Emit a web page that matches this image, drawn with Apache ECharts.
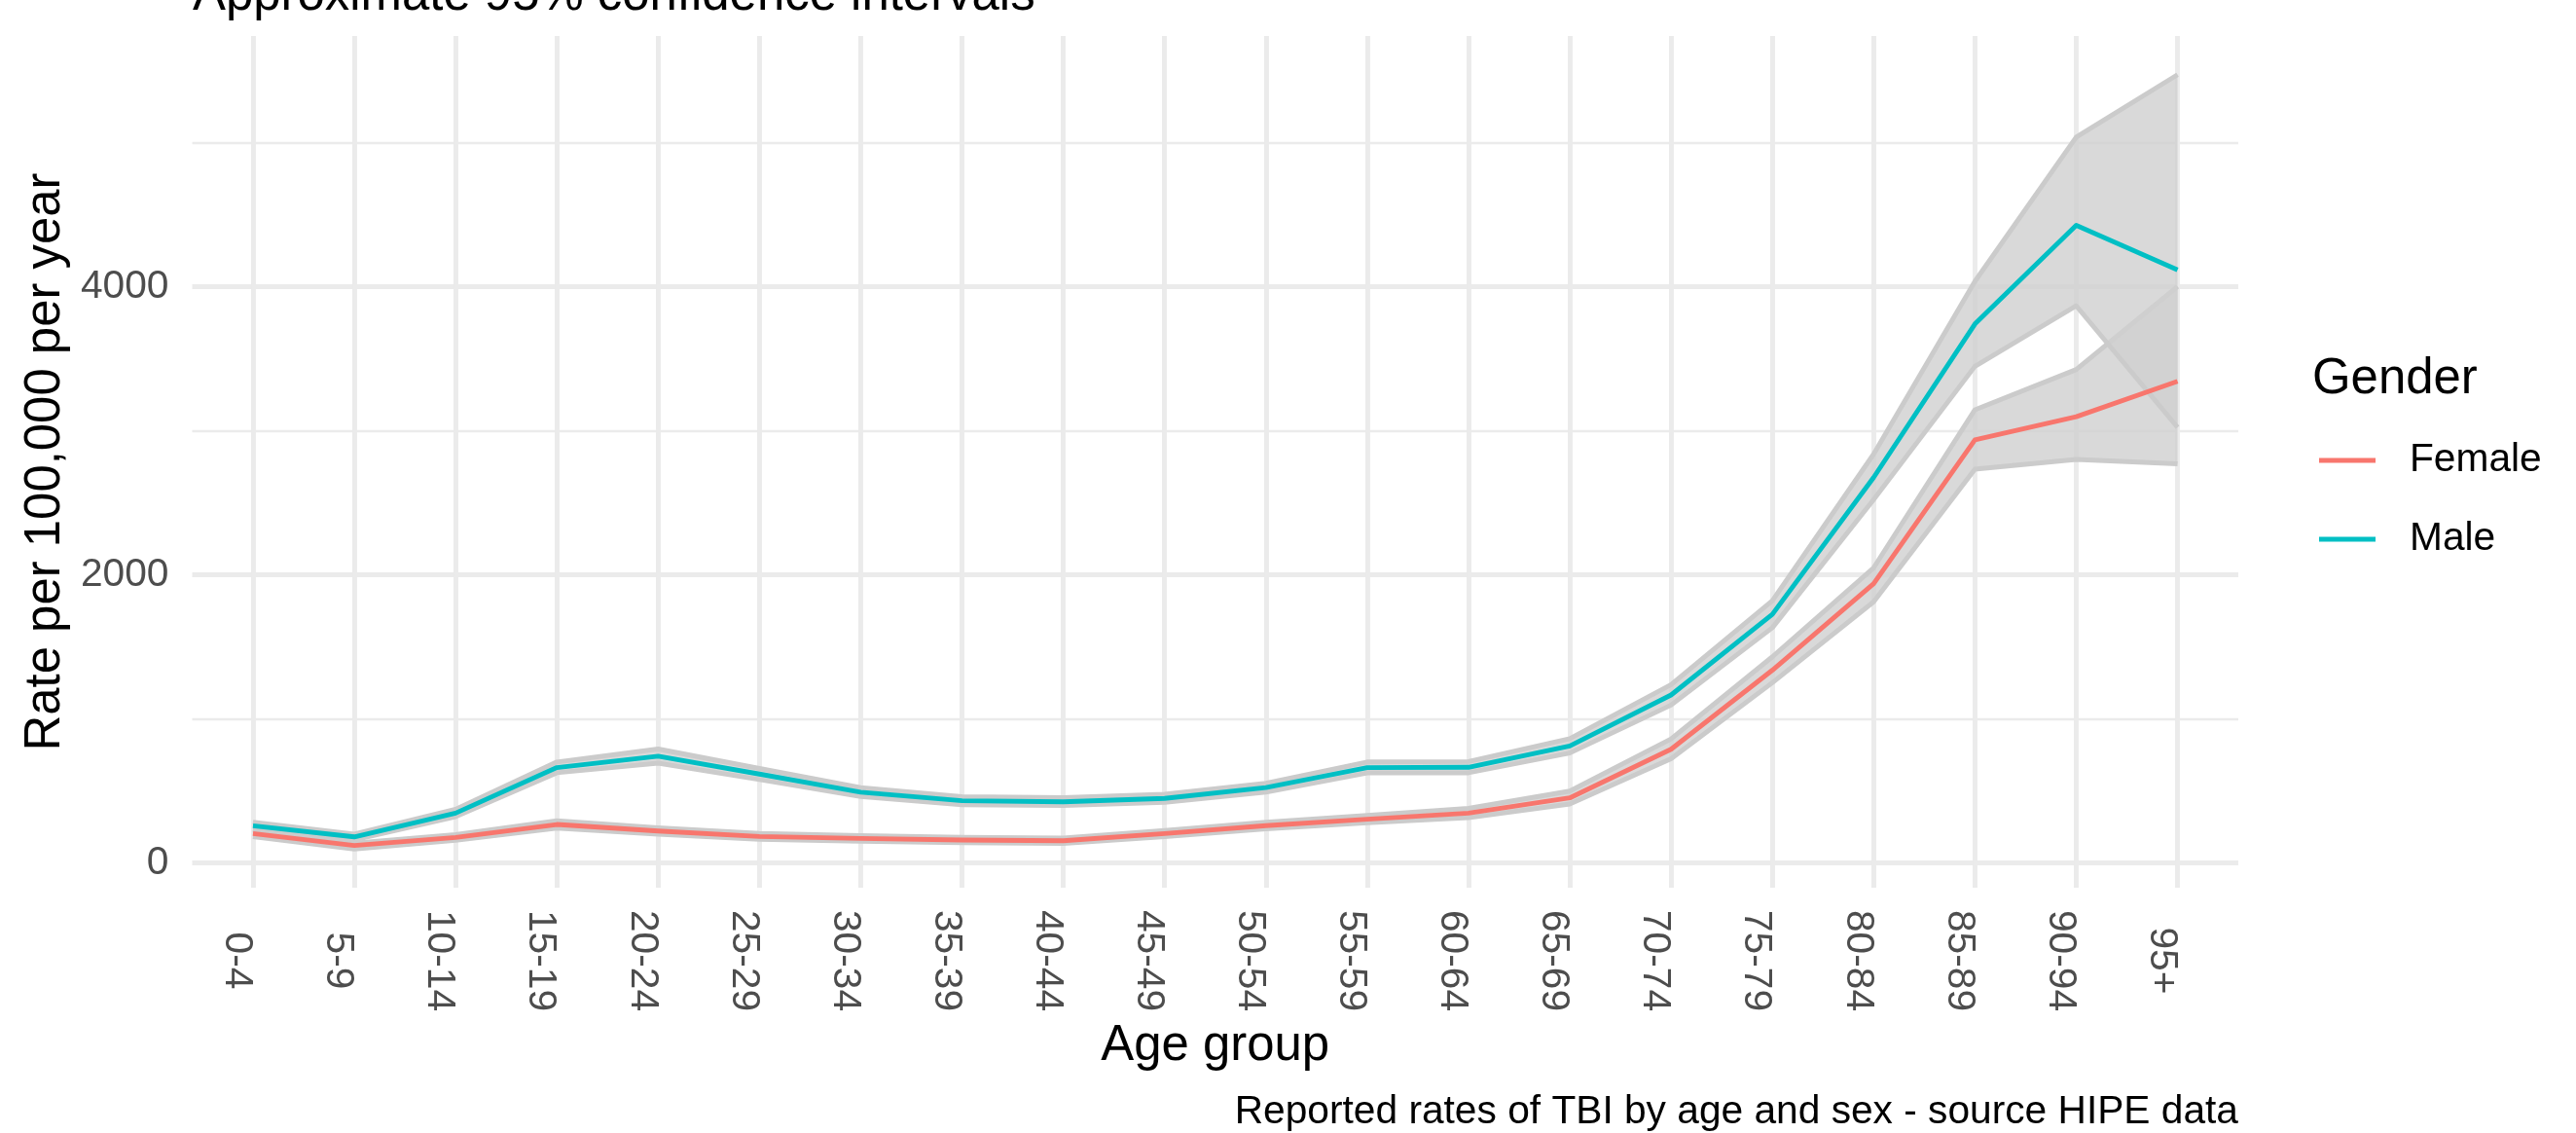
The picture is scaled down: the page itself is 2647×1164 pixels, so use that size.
<!DOCTYPE html>
<html>
<head>
<meta charset="utf-8">
<script src="https://cdn.jsdelivr.net/npm/echarts@6/dist/echarts.min.js"></script>
<style>
html,body{margin:0;padding:0;background:#fff;}
#chart{width:2647px;height:1164px;}
</style>
</head>
<body>
<div id="chart"></div>
<script>
// ---- data ----
const ageGroups = ['0-4','5-9','10-14','15-19','20-24','25-29','30-34','35-39','40-44','45-49',
  '50-54','55-59','60-64','65-69','70-74','75-79','80-84','85-89','90-94','95+'];
const maleRate  = [257,180,345,661,740,616,490,431,424,447,522,661,663,811,1165,1725,2675,3740,4425,4115];
const maleUpper = [282,200,372,700,790,655,522,460,452,476,553,700,703,862,1237,1820,2837,4036,5037,5470];
const maleLower = [233,160,320,625,692,578,460,403,397,419,490,624,625,762,1095,1632,2521,3446,3866,3023];
const femaleRate  = [203,120,176,266,221,183,169,158,153,203,258,303,345,451,788,1337,1938,2936,3096,3342];
const femaleUpper = [225,137,196,292,244,204,189,178,172,225,282,330,378,498,860,1430,2048,3145,3424,4000];
const femaleLower = [182,96,157,241,199,163,150,139,135,182,236,278,314,408,722,1250,1812,2732,2800,2769];
const yMajorTicks = [0,2000,4000];
const yMinorTicks = [1000,3000,5000];

const FEMALE = '#F8766D', MALE = '#00BFC4';
const FONT = 'Liberation Sans, Arial, Helvetica, sans-serif';
const LW = 4.9;

// ggplot-style 5% expansion of the continuous y range
const allVals = maleUpper.concat(maleLower, femaleUpper, femaleLower);
const lo = Math.min.apply(null, allVals), hi = Math.max.apply(null, allVals);
const yMin = lo - 0.05 * (hi - lo), yMax = hi + 0.05 * (hi - lo);
const xIdx = ageGroups.map((_, i) => i);

const pts = arr => arr.map((v, i) => [i, v]);

function ribbon(name, lower, upper) {
  return {
    name: name, type: 'custom', silent: true, z: 2,
    data: lower.map((v, i) => [i, v, upper[i]]),
    encode: {x: 0, y: [1, 2]},
    renderItem: function (params, api) {
      if (params.dataIndex !== 0) return null;
      const top = upper.map((v, i) => api.coord([i, v]));
      const bot = lower.map((v, i) => api.coord([i, v]));
      const poly = top.concat(bot.slice().reverse());
      const edge = {stroke: '#CBCBCB', lineWidth: LW, fill: null, lineJoin: 'round'};
      return {
        type: 'group',
        children: [
          {type: 'polygon', shape: {points: poly}, style: {fill: 'rgba(208,208,208,0.8)'}},
          {type: 'polyline', shape: {points: top}, style: edge},
          {type: 'polyline', shape: {points: bot}, style: edge}
        ]
      };
    }
  };
}

const chart = echarts.init(document.getElementById('chart'), null, {renderer: 'canvas'});
chart.setOption({
  animation: false,
  backgroundColor: '#ffffff',
  textStyle: {fontFamily: FONT},
  title: [
    {text: 'Approximate 95% confidence intervals', left: 198, top: -30, padding: 0,
     textStyle: {fontFamily: FONT, fontSize: 50.9, fontWeight: 'normal', color: '#000', lineHeight: 51}},
    {text: 'Reported rates of TBI by age and sex - source HIPE data', right: 347, top: 1122, padding: 0,
     textStyle: {fontFamily: FONT, fontSize: 40.7, fontWeight: 'normal', color: '#000', lineHeight: 41}},
    {text: 'Gender', left: 2376, top: 364, padding: 0,
     textStyle: {fontFamily: FONT, fontSize: 50.9, fontWeight: 'normal', color: '#000', lineHeight: 51}}
  ],
  legend: {
    data: ['Female', 'Male'],
    orient: 'vertical',
    left: 2383, top: 452.5,
    padding: 0,
    itemWidth: 58, itemHeight: LW, itemGap: 40,
    icon: 'rect',
    selectedMode: false,
    textStyle: {fontFamily: FONT, fontSize: 40.7, color: '#000', lineHeight: 41, padding: [0, 0, 0, 30]}
  },
  grid: {left: 197.5, right: 347, top: 37, bottom: 252, containLabel: false, outerBoundsMode: 'none'},
  xAxis: {
    type: 'value', min: -0.6, max: ageGroups.length - 0.4,
    name: 'Age group', nameLocation: 'middle', nameGap: 137.5,
    nameTextStyle: {fontFamily: FONT, fontSize: 50.9, color: '#000', lineHeight: 51},
    axisLine: {show: false},
    axisTick: {show: false, customValues: xIdx},
    axisLabel: {
      customValues: xIdx, rotate: -90, margin: 75, align: 'center', verticalAlign: 'top',
      fontFamily: FONT, fontSize: 40.7, color: '#4D4D4D', lineHeight: 33,
      formatter: v => ageGroups[Math.round(v)]
    },
    splitLine: {show: true, lineStyle: {color: '#EBEBEB', width: LW}}
  },
  yAxis: [
    {
      type: 'value', min: yMin, max: yMax,
      name: 'Rate per 100,000 per year', nameLocation: 'middle', nameGap: 122, nameRotate: 90,
      nameTextStyle: {fontFamily: FONT, fontSize: 50.9, color: '#000', lineHeight: 51},
      axisLine: {show: false},
      axisTick: {show: false, customValues: yMajorTicks},
      axisLabel: {customValues: yMajorTicks, margin: 24, fontFamily: FONT, fontSize: 40.7, color: '#4D4D4D',
        formatter: v => String(v)},
      splitLine: {show: true, lineStyle: {color: '#EBEBEB', width: LW}}
    },
    {
      type: 'value', min: yMin, max: yMax, position: 'left',
      axisLine: {show: false},
      axisTick: {show: false, customValues: yMinorTicks},
      axisLabel: {show: false, customValues: yMinorTicks},
      splitLine: {show: true, lineStyle: {color: '#EBEBEB', width: LW / 2}}
    }
  ],
  series: [
    ribbon('Female CI', femaleLower, femaleUpper),
    ribbon('Male CI', maleLower, maleUpper),
    {name: 'Female', type: 'line', data: pts(femaleRate), symbol: 'none', color: FEMALE,
     lineStyle: {color: FEMALE, width: LW, join: 'round'}, z: 3},
    {name: 'Male', type: 'line', data: pts(maleRate), symbol: 'none', color: MALE,
     lineStyle: {color: MALE, width: LW, join: 'round'}, z: 3}
  ]
});
</script>
</body>
</html>
